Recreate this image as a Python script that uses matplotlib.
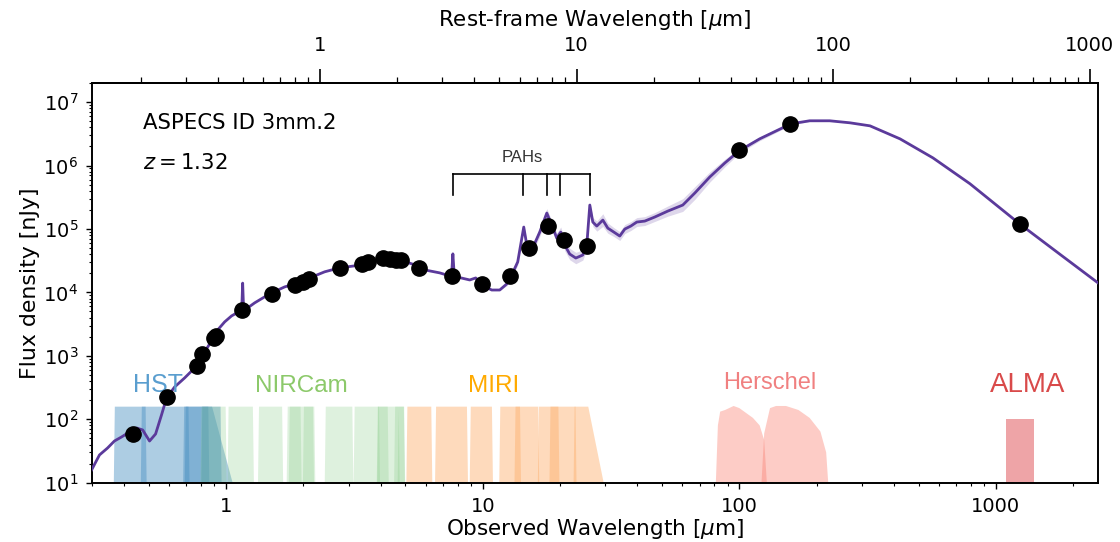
import numpy as np
import matplotlib
matplotlib.use("Agg")
import matplotlib.pyplot as plt
from matplotlib.ticker import FuncFormatter, NullFormatter, FixedLocator

# ---------------- data ----------------
z = 1.32

phot_wave = [0.432, 0.586, 0.770, 0.808, 0.895, 0.912, 1.149, 1.507, 1.85, 1.99, 2.097,
             2.77, 3.37, 3.57, 4.09, 4.34, 4.58, 4.82, 5.63, 7.62, 9.97, 12.8, 15.1,
             17.97, 20.75, 25.4, 99.8, 158.0, 1241.0]
phot_flux = [58.6, 225, 700, 1070, 1900, 2050, 5300, 9460, 12970, 14800, 16150,
             24600, 27900, 30600, 34600, 33400, 32600, 32600, 24600, 18400, 13600, 18200, 49800,
             112000, 67300, 54700, 1.73e6, 4.5e6, 1.19e5]

sed_wave = [0.299, 0.321, 0.345, 0.367, 0.391, 0.420, 0.448, 0.473, 0.503, 0.531,
            0.560, 0.586, 0.630, 0.689, 0.754, 0.788, 0.824, 0.878, 0.927, 0.987,
            1.050, 1.119, 1.150, 1.160, 1.170, 1.180, 1.292, 1.413, 1.504, 1.691,
            1.849, 2.116, 2.421, 2.770, 3.170, 3.627, 4.150, 4.747, 5.432, 5.941,
            6.799, 7.436, 7.560, 7.650, 7.750, 8.90, 9.39, 9.91, 10.84, 11.65,
            12.41, 12.98, 13.69, 14.45, 14.85, 15.53, 16.68, 17.77, 18.58, 19.43,
            20.14, 20.88, 21.83, 23.05, 24.55, 25.44, 26.14, 26.85, 27.83, 29.38,
            30.72, 32.42, 34.2, 35.78, 37.76, 39.85, 42.8, 46.8, 52.6, 60.2,
            67.1, 76.7, 87.8, 99.8, 120.0, 158.8, 188.0, 225.0, 270.0, 323.0,
            423.0, 568.0, 792.0, 1241.0, 1777.0, 2500.0]
sed_flux = [15.9, 27.4, 35.2, 45.4, 52.5, 63.0, 72.9, 67.8, 45.4, 58.6,
            117, 217, 323, 448, 644, 861, 1152, 1719, 2562, 3428,
            4258, 4930, 5100, 14000, 5200, 5250, 6840, 8500, 9820, 12200,
            13600, 16900, 21100, 24400, 26200, 30300, 33800, 32600, 27200, 22600,
            20300, 18200, 18100, 40500, 17900, 15700, 16900, 13100, 10900, 10900,
            13600, 18900, 30300, 107000, 55700, 46500, 89300, 178000, 115000, 71900,
            89300, 55700, 40200, 34800, 38800, 55700, 238000, 128500, 111000, 138000,
            103000, 89300, 77300, 99600, 111000, 128500, 133000, 154000, 191000, 238000,
            369000, 659000, 1.096e6, 1.7e6, 2.63e6, 4.54e6, 5.07e6, 5.07e6, 4.71e6, 4.22e6,
            2.63e6, 1.32e6, 5.16e5, 1.19e5, 39800, 14100]
# half-width of the uncertainty band (dex) at each model point
sed_band_dex = ([0.0] * 50 +
                [0.03, 0.04, 0.05, 0.05, 0.06, 0.06, 0.07, 0.07, 0.07, 0.08,
                 0.08, 0.09, 0.09, 0.09, 0.08, 0.07, 0.05, 0.07, 0.08, 0.10,
                 0.08, 0.07, 0.07, 0.07, 0.07, 0.07, 0.07, 0.07, 0.08, 0.10,
                 0.10, 0.08, 0.06, 0.04, 0.03, 0.02, 0.01, 0.0] +
                [0.0] * 8)

# filter bandpasses (observed micron)
hst_lo = [0.365, 0.465, 0.68, 0.69, 0.80]
hst_hi = [0.49, 0.72, 0.86, 0.96, 1.06]
nircam_lo = [0.795, 1.013, 1.331, 1.755, 1.722, 1.992, 2.423, 3.14, 3.864, 3.88, 4.515, 4.662]
nircam_hi = [1.005, 1.283, 1.668, 2.226, 1.968, 2.201, 3.132, 3.98, 4.302, 4.986, 4.747, 4.973]
miri_lo = [5.04, 6.52, 8.9, 11.6, 13.3, 16.4, 18.2, 22.6]
miri_hi = [6.36, 8.76, 10.96, 14.1, 16.6, 19.9, 23.2, 29.6]
pacs100_wave = [81, 82.5, 84.2, 88, 95, 100, 113, 120, 125, 128]
pacs100_resp = [10, 80, 132, 140, 162, 150, 105, 80, 47, 10]
pacs160_wave = [122, 125, 131.7, 139, 152, 170, 188, 207, 218, 222]
pacs160_resp = [10, 60, 150, 162, 162, 140, 105, 64, 30, 10]
alma_lo, alma_hi, alma_top = 1094, 1410, 102

pah_rest = [3.3, 6.2, 7.7, 8.6, 11.3]

x_ticks = [1, 10, 100, 1000]
top_ticks = [1, 10, 100, 1000]
y_ticks = [1e1, 1e2, 1e3, 1e4, 1e5, 1e6, 1e7]

# ---------------- style ----------------
sed_color = "#5b3a9b"
hst_color, nircam_color, miri_color = "#4a90c2", "#7fc97f", "#fdae6b"
hers_color, alma_color = "#fa8072", "#e05a60"
filt_peak = 158
sans = ["Liberation Sans", "DejaVu Sans"]

plt.rcParams["font.family"] = ["DejaVu Sans"]
fig = plt.figure(figsize=(11.2, 5.42), dpi=100)
ax = fig.add_axes([0.0821, 0.1094, 0.8983, 0.7375])
ax.set_xscale("log")
ax.set_yscale("log")
ax.set_xlim(0.3, 2500)
ax.set_ylim(10, 2e7)


def band(lo, hi, color, alpha, e_lo=0.004, e_hi=0.004, top=filt_peak):
    xs = [lo, lo * 10 ** e_lo, hi / 10 ** e_hi, hi]
    ys = [10, top, top, 10]
    ax.fill(xs, ys, color=color, alpha=alpha, lw=0, zorder=1)


for i, (lo, hi) in enumerate(zip(hst_lo, hst_hi)):
    band(lo, hi, hst_color, 0.45, e_hi=(0.08 if i == 4 else 0.004))
for lo, hi in zip(nircam_lo, nircam_hi):
    band(lo, hi, nircam_color, 0.25)
for i, (lo, hi) in enumerate(zip(miri_lo, miri_hi)):
    band(lo, hi, miri_color, 0.45, e_hi=(0.06 if i == len(miri_lo) - 1 else 0.004))
ax.fill(pacs100_wave, pacs100_resp, color=hers_color, alpha=0.4, lw=0, zorder=1)
ax.fill(pacs160_wave, pacs160_resp, color=hers_color, alpha=0.4, lw=0, zorder=1)
ax.fill([alma_lo, alma_lo, alma_hi, alma_hi], [10, alma_top, alma_top, 10],
        color=alma_color, alpha=0.55, lw=0, zorder=1)

# SED model + uncertainty
sw = np.array(sed_wave)
sf = np.array(sed_flux)
bd = np.array(sed_band_dex)
ax.fill_between(sw, sf / 10 ** bd, sf * 10 ** bd, color=sed_color, alpha=0.2, lw=0, zorder=2)
ax.plot(sw, sf, color=sed_color, lw=2.0, zorder=3)

# photometry
ax.plot(phot_wave, phot_flux, "o", color="black", ms=11, zorder=4)

# PAH bracket
pah_obs = [p * (1 + z) for p in pah_rest]
y_top, y_bot = 7.3e5, 3.37e5
ax.plot([pah_obs[0], pah_obs[-1]], [y_top, y_top], color="black", lw=1.2, zorder=3)
for p in pah_obs:
    ax.plot([p, p], [y_top, y_bot], color="black", lw=1.2, zorder=3)
ax.text(14.3, 1.13e6, "PAHs", family=sans, fontsize=12, color="#333333",
        ha="center", va="baseline")

# instrument labels
ax.text(0.545, 270, "HST", family=sans, fontsize=18, color="#5a9ecf", ha="center", va="baseline")
ax.text(1.96, 270, "NIRCam", family=sans, fontsize=17.5, color="#8cc96a", ha="center", va="baseline")
ax.text(11.05, 270, "MIRI", family=sans, fontsize=17.5, color="#ffaa00", ha="center", va="baseline")
ax.text(130.8, 300, "Herschel", family=sans, fontsize=17, color="#f08080", ha="center", va="baseline")
ax.text(1333, 270, "ALMA", family=sans, fontsize=20, color="#d94a4a", ha="center", va="baseline")

ax.text(0.0507, 0.885, "ASPECS ID 3mm.2", transform=ax.transAxes, fontsize=15.3, va="baseline")
ax.text(0.0507, 0.784, r"$z = 1.32$", transform=ax.transAxes, fontsize=15.3, va="baseline")

# axes styling
plain = FuncFormatter(lambda v, p: f"{v:g}")
ax.xaxis.set_major_locator(FixedLocator(x_ticks))
ax.xaxis.set_major_formatter(plain)
ax.xaxis.set_minor_formatter(NullFormatter())
ax.yaxis.set_major_locator(FixedLocator(y_ticks))
ax.yaxis.set_major_formatter(FuncFormatter(lambda v, p: r"$10^{%d}$" % round(np.log10(v))))
ax.tick_params(axis="both", which="major", labelsize=14, length=4, width=1, pad=6)
ax.tick_params(axis="both", which="minor", length=2.2, width=0.8)
ax.set_xlabel(r"Observed Wavelength [$\mu$m]", fontsize=15.5, labelpad=1)
ax.set_ylabel("Flux density [nJy]", fontsize=15.8, labelpad=2)
for s in ax.spines.values():
    s.set_linewidth(1.4)

sec = ax.secondary_xaxis("top", functions=(lambda x: x / (1 + z), lambda x: x * (1 + z)))
sec.xaxis.set_major_locator(FixedLocator(top_ticks))
sec.xaxis.set_major_formatter(plain)
sec.xaxis.set_minor_formatter(NullFormatter())
sec.tick_params(axis="x", which="major", labelsize=14, length=10, width=1.2, pad=10)
sec.tick_params(axis="x", which="minor", length=4, width=0.9)
sec.set_xlabel(r"Rest-frame Wavelength [$\mu$m]", fontsize=15.5, labelpad=7)
sec.spines["top"].set_linewidth(1.4)

fig.savefig("out.png", dpi=100)
